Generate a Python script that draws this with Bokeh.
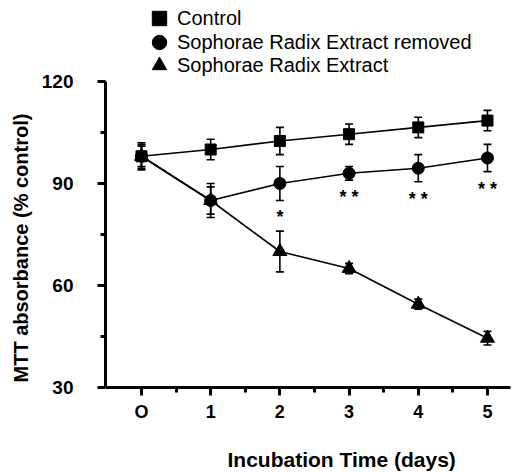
from bokeh.plotting import figure
from bokeh.models import (Range1d, Whisker, ColumnDataSource, Legend, LegendItem,
                          Title, FixedTicker, TeeHead, LinearAxis)
from bokeh.embed import file_html
from bokeh.resources import INLINE
from bokeh.core.properties import value

# ---- data ----
days = [0, 1, 2, 3, 4, 5]
x_tick_labels = ["O", "1", "2", "3", "4", "5"]
y_ticks = [30, 60, 90, 120]

control = [98, 100, 102.5, 104.5, 106.5, 108.5]
control_err = [3, 3, 4, 3, 3, 3]

removed = [98, 85, 90, 93, 94.5, 97.5]
removed_err = [4, 5, 5, 2, 4, 4]

extract = [98, 85, 70, 65, 54.5, 44.5]
extract_err = [3.5, 4, 6, 1.5, 1.5, 2]

star_days = [2, 3, 4, 5]
star_text = ["*", "* *", "* *", "* *"]

series_names = ["Control", "Sophorae Radix Extract removed", "Sophorae Radix Extract"]

FONT = "Liberation Sans"

p = figure(width=515, height=472, output_backend="svg", toolbar_location=None,
           x_range=Range1d(-0.52, 5.405), y_range=Range1d(30, 143.82),
           min_border_left=105, min_border_right=0, min_border_top=0,
           min_border_bottom=85)
p.title.visible = False
p.outline_line_color = None
p.grid.visible = False
p.background_fill_color = "white"
p.border_fill_color = "white"

# axes
xa = p.xaxis[0]
xa.ticker = FixedTicker(ticks=days, minor_ticks=[0.5, 1.5, 2.5, 3.5, 4.5])
xa.major_label_overrides = {d: l for d, l in zip(days, x_tick_labels)}
xa.bounds = (-0.52, 5.33)
ya = p.yaxis[0]
ya.ticker = FixedTicker(ticks=y_ticks, minor_ticks=[45, 75, 105])
ya.bounds = (30, 120)
for ax in (xa, ya):
    ax.axis_line_width = 3
    ax.axis_line_color = "black"
    ax.major_tick_line_width = 3
    ax.minor_tick_line_width = 3
    ax.major_tick_in = 0
    ax.major_tick_out = 8
    ax.minor_tick_in = 0
    ax.minor_tick_out = 5
    ax.major_label_text_font = FONT
    ax.major_label_text_font_style = "bold"
    ax.major_label_text_color = "black"
xa.major_label_text_font_size = "18px"
xa.major_label_standoff = 6
ya.major_label_text_font_size = "19px"
ya.major_label_standoff = 24


def spacer_axis(gap, tick):
    """An invisible axis (no line, no visible tick, empty label) that only
    reserves room between a real axis and its title."""
    return LinearAxis(ticker=FixedTicker(ticks=[tick], minor_ticks=[]),
                      axis_line_color=None,
                      major_tick_line_color=None, minor_tick_line_color=None,
                      major_tick_in=0, minor_tick_in=0,
                      major_tick_out=gap, minor_tick_out=0,
                      major_label_standoff=0,
                      major_label_overrides={tick: ""},
                      major_label_text_font_size="1px")


# series: lines
for vals in (control, removed, extract):
    p.line(days, vals, line_color="black", line_width=1.6)

# error bars
for vals, errs in ((control, control_err), (removed, removed_err), (extract, extract_err)):
    src = ColumnDataSource(dict(x=days,
                                lower=[v - e for v, e in zip(vals, errs)],
                                upper=[v + e for v, e in zip(vals, errs)]))
    w = Whisker(base="x", lower="lower", upper="upper", source=src,
                dimension="height", line_color="black", line_width=1.6,
                upper_head=TeeHead(size=8, line_width=1.6, line_color="black"),
                lower_head=TeeHead(size=8, line_width=1.6, line_color="black"))
    p.add_layout(w)

r_sq = p.scatter(days, control, marker="square", size=11, color="black")
r_ci = p.scatter(days, removed, marker="circle", size=12, color="black")
r_tr = p.scatter(days, extract, marker="triangle", size=14, color="black")

# significance stars under the "removed" series
star_y = [removed[d] - removed_err[d] for d in star_days]
p.text(x=star_days, y=star_y, text=star_text, text_align="center",
       text_baseline="top", y_offset=7, text_font=value(FONT),
       text_font_style="bold", text_font_size="18px", text_color="black")

# legend: one single-item legend per row, stacked above the plot area
for name, rend, loc_y in zip(series_names, (r_sq, r_ci, r_tr), (351, 327, 304)):
    lg = Legend(items=[LegendItem(label=name, renderers=[rend])],
                location=(36, loc_y), glyph_width=36, glyph_height=36, spacing=0,
                padding=0, margin=0, label_standoff=0, border_line_color=None,
                background_fill_alpha=0, label_text_font=FONT,
                label_text_font_size="20px", label_text_color="black")
    p.add_layout(lg)

# axis titles as side titles so they can sit off-centre like the reference
p.add_layout(spacer_axis(21, 2), "below")
p.add_layout(Title(text="Incubation Time (days)", align="left", offset=122,
                   standoff=0, text_font=FONT, text_font_style="bold",
                   text_font_size="21px", text_color="black"), "below")
p.add_layout(spacer_axis(7, 60), "left")
p.add_layout(Title(text="MTT absorbance (% control)", align="left", offset=5,
                   standoff=0, text_font=FONT, text_font_style="bold",
                   text_font_size="20px", text_color="black"), "left")

open("out.html", "w").write(file_html(p, INLINE))
